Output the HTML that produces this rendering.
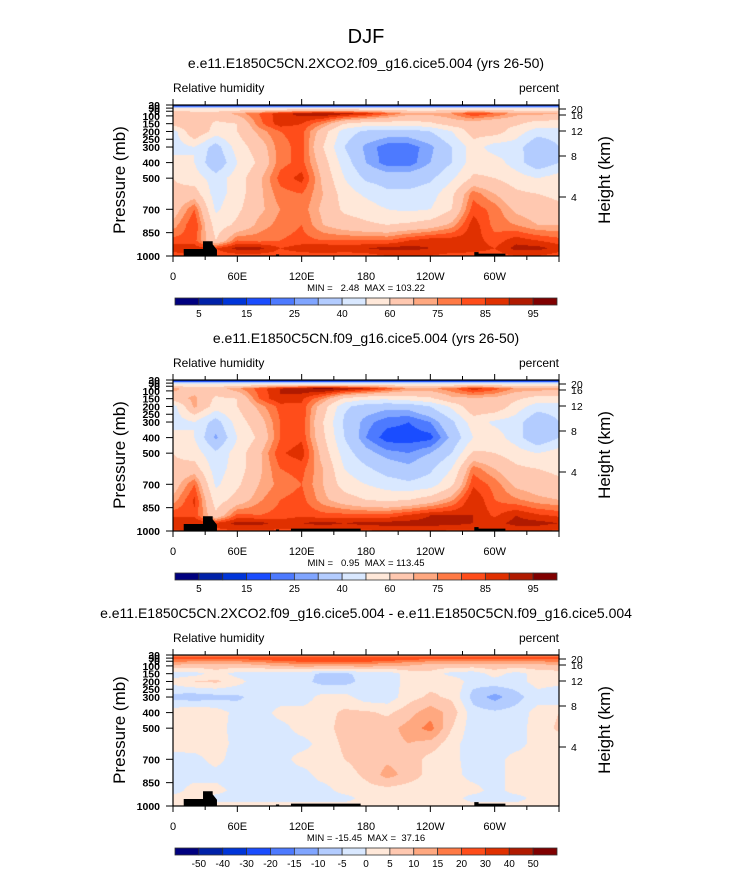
<!DOCTYPE html>
<html><head><meta charset="utf-8"><style>
body{margin:0;background:#fff;}
#wrap{position:relative;width:733px;height:872px;overflow:hidden;font-family:"Liberation Sans",Arial,sans-serif;}
canvas{position:absolute;}
svg{position:absolute;left:0;top:0;}
</style></head><body>
<div id="wrap">
<canvas id="c0" width="386" height="151" style="left:173px;top:105px"></canvas>
<canvas id="c1" width="386" height="151" style="left:173px;top:380px"></canvas>
<canvas id="c2" width="386" height="151" style="left:173px;top:655px"></canvas>
<svg id="ov" width="733" height="872"></svg>
</div>
<script>
const lons=[0,20,40,60,80,100,120,140,160,180,200,220,240,260,280,300,320,340,360];
const levs=[35,50,85,150,200,300,400,500,600,700,800,900,950,1000];
const rh1=[
[8,8,8,8,8,8,8,8,8,8,8,8,8,8,8,8,8,8,8],
[50,50,50,50,50,50,50,50,50,50,50,50,50,50,50,50,50,50,50],
[70,65,65,72,80,88,92,95,92,88,80,72,72,75,85,80,72,72,70],
[65,70,58,60,78,88,85,75,60,55,55,55,58,65,65,62,62,55,55],
[45,70,55,60,72,80,82,65,45,38,35,35,40,50,65,65,55,45,45],
[45,50,35,55,65,78,82,60,40,28,22,22,28,40,55,45,45,30,40],
[55,50,30,50,62,78,82,65,45,30,22,22,30,40,55,55,45,32,40],
[60,55,45,55,68,82,87,68,50,38,35,35,38,48,62,60,55,50,55],
[62,65,45,55,68,78,80,70,55,48,42,42,45,58,78,70,62,60,58],
[65,80,48,58,68,75,78,68,58,55,50,48,50,60,83,78,68,65,62],
[72,85,55,62,72,77,80,70,65,62,60,62,65,72,88,78,75,70,70],
[82,82,60,80,78,80,82,80,80,80,80,85,88,88,88,82,88,85,82],
[88,88,85,92,92,85,88,90,88,90,92,92,90,90,88,85,92,92,88],
[82,85,82,82,82,82,82,82,82,82,85,85,85,82,82,82,85,85,82]];
const rh2=[
[6,6,6,6,6,6,6,6,6,6,6,6,6,6,6,6,6,6,6],
[45,45,45,45,45,45,45,45,45,45,45,45,45,45,45,45,45,45,45],
[72,66,66,74,82,90,94,97,94,90,82,74,74,78,88,82,74,74,72],
[65,72,58,60,80,90,86,75,58,52,52,55,58,68,68,68,62,55,55],
[45,72,55,60,72,82,84,65,42,35,32,33,40,52,68,68,55,45,45],
[45,50,35,55,66,80,84,60,38,27,22,20,25,38,55,48,45,30,40],
[55,50,28,50,62,80,84,62,40,25,17,17,18,32,50,55,45,30,40],
[60,55,42,55,68,84,88,66,45,33,27,25,30,40,62,60,55,50,55],
[62,65,45,55,68,80,82,70,50,42,35,32,38,50,78,70,62,60,58],
[65,80,48,58,70,77,80,70,55,50,45,42,45,58,84,78,68,65,62],
[72,86,55,64,74,80,82,72,65,60,58,60,65,74,90,80,76,72,70],
[84,84,62,82,80,82,84,82,82,82,82,86,90,90,90,84,90,86,84],
[90,90,86,92,92,88,90,92,90,92,92,92,92,92,90,88,92,92,90],
[84,86,84,84,84,84,84,84,84,84,86,86,86,84,84,84,86,86,84]];
const rhDiff=[
[15,15,15,15,15,15,15,15,15,15,15,15,15,15,15,15,15,15,15],
[22,22,22,22,24,26,28,28,28,28,26,24,22,22,22,22,22,22,22],
[12,10,10,10,12,14,16,16,16,16,14,12,10,10,10,10,10,10,12],
[-3,-2,2,-2,-3,-3,-3,-6,-6,-3,-3,2,3,-2,-3,2,-2,2,2],
[2,5,6,2,-3,-3,-3,-7,-7,-3,-3,2,3,4,-3,-2,-2,2,2],
[-7,-8,-7,-6,-3,-3,-3,2,2,-3,-3,3,6,4,-7,-12,-7,-2,-5],
[3,5,3,-2,-3,2,2,3,6,6,4,8,13,8,-3,-4,-3,2,5],
[3,5,2,-2,-3,-2,2,3,7,8,8,12,17,5,-3,-3,-2,2,6],
[2,3,3,-2,-3,-2,-2,2,6,8,8,10,8,2,-3,-2,-2,2,2],
[-2,-2,2,-3,-2,-2,2,2,5,7,9,8,3,2,-3,-2,2,2,2],
[-2,-2,-2,-3,-3,-2,-2,2,3,6,12,8,3,2,-2,-2,2,2,2],
[-2,2,2,-2,-2,-2,-2,-2,2,3,3,2,2,2,2,-2,2,2,2],
[2,2,-2,-2,-2,-2,-2,-2,-2,2,2,2,2,2,-2,-2,-2,2,2],
[2,2,2,2,2,2,2,2,2,2,2,2,2,2,2,2,2,2,2]];
const rhLevels=[5,10,15,20,25,30,40,50,60,70,75,80,85,90,95];
const diffLevels=[-50,-40,-30,-20,-15,-10,-5,0,5,10,15,20,30,40,50];
const rhTickLabels=["5","15","25","40","60","75","85","95"];
const diffTickLabels=["-50","-40","-30","-20","-15","-10","-5","0","5","10","15","20","30","40","50"];
const topoA=[[[10,1000],[10,955],[28,955],[28,905],[37,905],[37,925],[41,960],[41,1000]],[[96,1000],[96,990],[99,990],[99,1000]],[[281,1000],[281,975],[285,975],[285,985],[310,985],[310,1000]]];
const topoB=topoA.concat([[[110,1000],[110,985],[175,985],[175,1000]]]);
const palette=["#00007f","#0021a8","#0035d9","#1a4dff","#4d7aff","#80a5ff","#b3ccff","#d9e8ff","#ffe8d9","#ffc8b0","#ffa880","#ff7a45","#ff4d1a","#e03000","#b01a00","#800000"];

const PX=173,PW=386,PH=151,PT=30,PB=1000;
const tops=[105,380,655];
function xOf(lon){return PX+lon/360*PW;}
function yOf(p,top){return top+(p-PT)/(PB-PT)*PH;}
function sample(g,lon,p){
  let j=Math.min(lons.length-2,Math.floor(lon/20));let fx=(lon-lons[j])/20;
  let i=0;if(p<=levs[0]){i=0;}else{while(i<levs.length-2&&p>levs[i+1])i++;}
  let fy=Math.max(0,Math.min(1,(p-levs[i])/(levs[i+1]-levs[i])));
  let a=g[i][j]*(1-fx)+g[i][j+1]*fx,b=g[i+1][j]*(1-fx)+g[i+1][j+1]*fx;return a*(1-fy)+b*fy;}
function colIdx(v,lv){let k=0;while(k<lv.length&&v>=lv[k])k++;return k;}
function hex(h){return [parseInt(h.substr(1,2),16),parseInt(h.substr(3,2),16),parseInt(h.substr(5,2),16)];}
const pal=palette.map(hex);
function paint(id,g,lv){
  const c=document.getElementById(id),ctx=c.getContext('2d'),im=ctx.createImageData(PW,PH);
  for(let py=0;py<PH;py++){const p=PT+(py+0.5)/PH*(PB-PT);
    for(let px=0;px<PW;px++){const lon=(px+0.5)/PW*360;const col=pal[colIdx(sample(g,lon,p),lv)];const o=(py*PW+px)*4;
      im.data[o]=col[0];im.data[o+1]=col[1];im.data[o+2]=col[2];im.data[o+3]=255;}}
  ctx.putImageData(im,0,0);}
paint('c0',rh1,rhLevels);paint('c1',rh2,rhLevels);paint('c2',rhDiff,diffLevels);

const NS='http://www.w3.org/2000/svg',svg=document.getElementById('ov');
function el(t,a,txt){const e=document.createElementNS(NS,t);for(const k in a)e.setAttribute(k,a[k]);if(txt!==undefined)e.textContent=txt;svg.appendChild(e);return e;}
let t;
t=el('text',{x:366,y:43,'font-size':20,'text-anchor':'middle'},'DJF');


const subs=["e.e11.E1850C5CN.2XCO2.f09_g16.cice5.004 (yrs 26-50)","e.e11.E1850C5CN.f09_g16.cice5.004 (yrs 26-50)","e.e11.E1850C5CN.2XCO2.f09_g16.cice5.004 - e.e11.E1850C5CN.f09_g16.cice5.004"];
const mins=["MIN =\u00a0\u00a0 2.48\u00a0 MAX = 103.22","MIN =\u00a0\u00a0 0.95\u00a0 MAX = 113.45","MIN = -15.45\u00a0 MAX =\u00a0 37.16"];
const pLabels=[1000,850,700,500,400,300,250,200,150,100,70,50,30];
const hLabels=["4","8","12","16","20"];
const hOffsets=[92,51,26,10,4];
const lonTicks=[0,60,120,180,240,300];
const lonLabels=["0","60E","120E","180","120W","60W"];
const topos=[topoA,topoB,topoB];
for(let k=0;k<3;k++){
  const top=tops[k],bot=top+PH;
  t=el('text',{x:366,y:top-37,'font-size':14,'text-anchor':'middle'},subs[k]);
  
  
  t=el('text',{x:173,y:top-13,'font-size':12},'Relative humidity');
  
  
  t=el('text',{x:559,y:top-13,'font-size':12,'text-anchor':'end'},'percent');
  
  
  topos[k].forEach(poly=>{
    const pg=el('polygon',{points:poly.map(q=>xOf(q[0])+','+yOf(q[1],top)).join(' '),fill:'#000'});
    
    
  });
  const fr=el('rect',{x:PX,y:top,width:PW,height:PH,fill:'none',stroke:'#000','stroke-width':1.2});
  
  
  for(let lon=0;lon<=360;lon+=30){const x=xOf(lon);const len=lon%60===0?6:4;
    el('line',{x1:x,y1:bot,x2:x,y2:bot+len,stroke:'#000'});el('line',{x1:x,y1:top,x2:x,y2:top-len,stroke:'#000'});}
  lonTicks.forEach((lon,i)=>{t=el('text',{x:xOf(lon),y:bot+24,'font-size':11,'text-anchor':'middle'},lonLabels[i]);
    
    });
  pLabels.forEach(p=>{const y=yOf(p,top);el('line',{x1:PX-7,y1:y,x2:PX,y2:y,stroke:'#000'});
    t=el('text',{x:PX-13,y:y+4,'font-size':10.5,'text-anchor':'end','font-weight':'bold'},String(p));
    
    });
  hLabels.forEach((h,i)=>{const y=top+hOffsets[i];el('line',{x1:PX+PW,y1:y,x2:PX+PW+7,y2:y,stroke:'#000'});
    t=el('text',{x:PX+PW+12,y:y+4,'font-size':10.5},h);
    
    });
  t=el('text',{x:0,y:0,'font-size':17,'text-anchor':'middle',transform:`translate(125,${top+75}) rotate(-90)`},'Pressure (mb)');
  
  
  t=el('text',{x:0,y:0,'font-size':17,'text-anchor':'middle',transform:`translate(610,${top+75}) rotate(-90)`},'Height (km)');
  
  
  t=el('text',{x:366,y:bot+35,'font-size':9.5,'text-anchor':'middle'},mins[k]);
  
  
  const cy=top+193,bw=382/16;
  for(let b=0;b<16;b++){const r=el('rect',{x:175+b*bw,y:cy,width:bw,height:7,fill:palette[b],stroke:'#333','stroke-width':0.8});
    
    }
  if(k<2){rhTickLabels.forEach((lab,i)=>{t=el('text',{x:175+(1+2*i)*bw,y:cy+19,'font-size':10,'text-anchor':'middle'},lab);
    
    });}
  else{diffTickLabels.forEach((lab,i)=>{t=el('text',{x:175+(1+i)*bw,y:cy+19,'font-size':10,'text-anchor':'middle'},lab);
    
    });}
}
</script>
</body></html>
